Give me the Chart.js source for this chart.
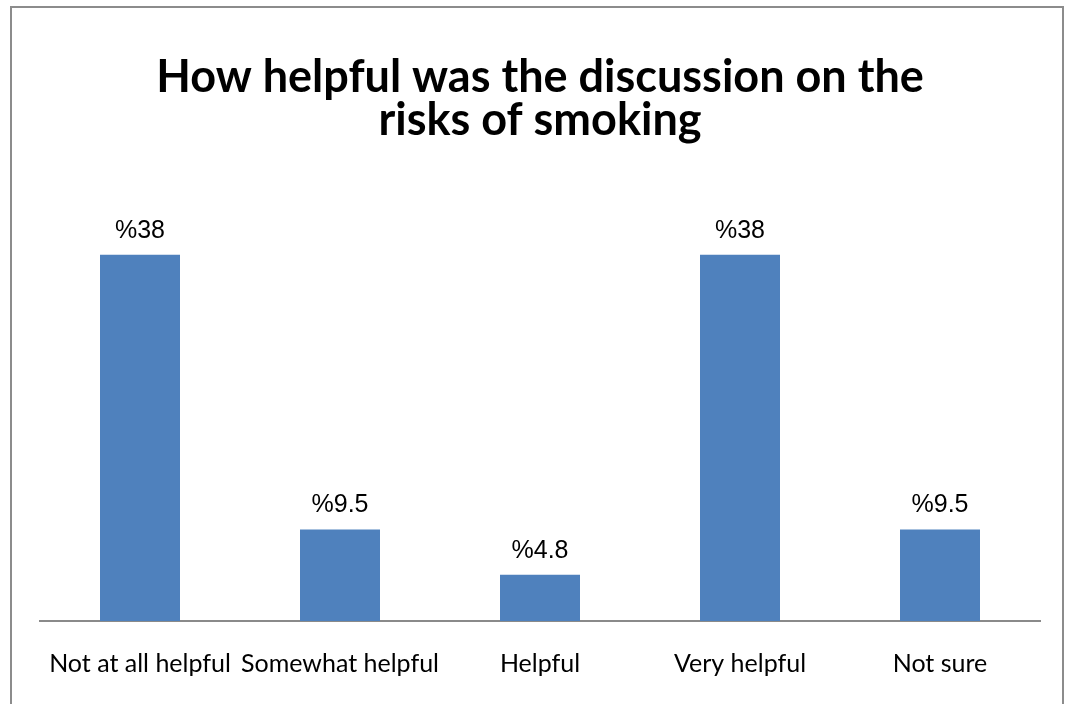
<!DOCTYPE html>
<html>
<head>
<meta charset="utf-8">
<script src="https://cdn.jsdelivr.net/npm/chart.js@4"></script>
<style>
  html, body { margin: 0; padding: 0; background: #fff; }
  .wrap { position: relative; width: 1068px; height: 704px; overflow: hidden; }
  .frame { position: absolute; left: 10px; top: 6px; width: 1054px; height: 720px; border: 2px solid #8c8c8c; box-sizing: border-box; }
  canvas { position: absolute; left: 0; top: 0; }
</style>
</head>
<body>
<div class="wrap">
  <div class="frame"></div>
  <canvas id="helpfulChart" width="1068" height="704"></canvas>
</div>
<script>
// survey answers, percent of respondents
const categories = ['Not at all helpful', 'Somewhat helpful', 'Helpful', 'Very helpful', 'Not sure'];
const percents = [38, 9.5, 4.8, 38, 9.5];
const titleLines = ['How helpful was the discussion on the', 'risks of smoking'];

//! value labels above bars, written as %NN
const valueLabels = {
  id: 'valueLabels',
  afterDatasetsDraw(chart) {
    const { ctx } = chart;
    const meta = chart.getDatasetMeta(0);
    ctx.save();
    ctx.font = '25px "Liberation Sans", Arial, sans-serif';
    ctx.fillStyle = '#000';
    ctx.textAlign = 'center';
    ctx.textBaseline = 'alphabetic';
    meta.data.forEach((bar, i) => {
      ctx.fillText('%' + percents[i], bar.x, bar.y - 17);
    });
    ctx.restore();
  }
};

const ctx = document.getElementById('helpfulChart').getContext('2d');

new Chart(ctx, {
  type: 'bar',
  data: {
    labels: categories,
    datasets: [{
      data: percents,
      backgroundColor: '#4F81BD',
      borderWidth: 0,
      barPercentage: 0.4,
      categoryPercentage: 1
    }]
  },
  options: {
    responsive: false,
    animation: false,
    layout: { padding: { top: 56, left: 40, right: 28, bottom: 5 } },
    plugins: {
      legend: { display: false },
      tooltip: { enabled: false },
      title: {
        display: true,
        text: titleLines,
        color: '#000',
        font: { family: 'Lato, "Open Sans", sans-serif', size: 45, weight: 'bold', lineHeight: 0.96 },
        padding: { top: 0, bottom: 93 }
      }
    },
    scales: {
      x: {
        grid: { display: false },
        border: { display: true, color: '#8a8a8a', width: 2 },
        ticks: {
          color: '#000',
          padding: 20,
          maxRotation: 0,
          autoSkip: false,
          font: { family: 'Lato, "Open Sans", sans-serif', size: 25 }
        }
      },
      y: {
        display: false,
        min: 0,
        max: 40
      }
    }
  },
  plugins: [valueLabels]
});
</script>
</body>
</html>
